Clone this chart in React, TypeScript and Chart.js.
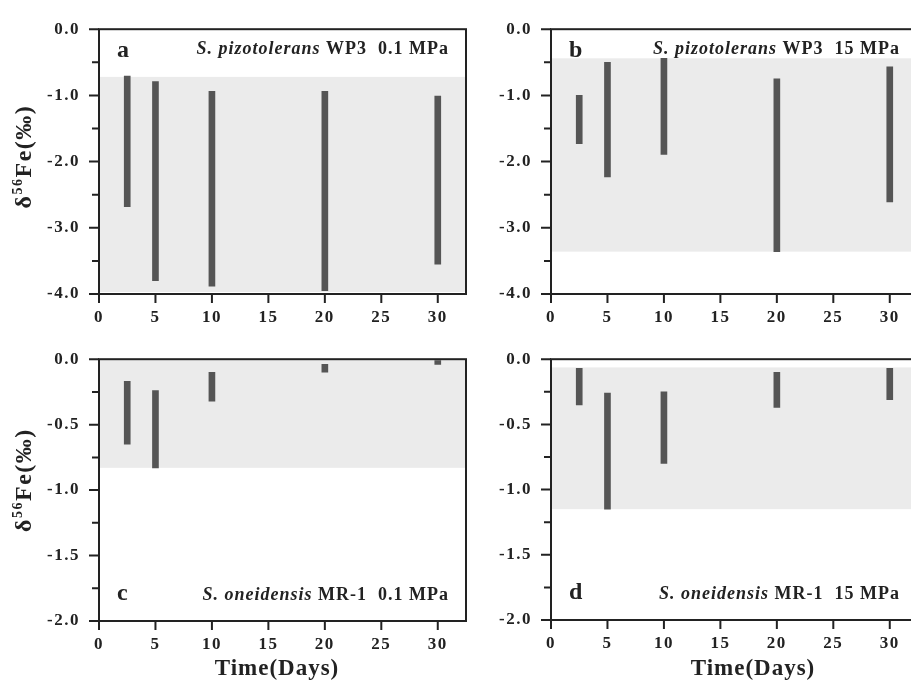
import React, { useEffect, useRef } from 'react';
import { Chart, registerables } from 'chart.js';

Chart.register(...registerables);

// ---------- data ----------
const days = [2.5, 5, 10, 20, 30];
const xTickLabels = [0, 5, 10, 15, 20, 25, 30];

const aLow = [-2.68, -3.8, -3.88, -3.95, -3.55];
const aHigh = [-0.71, -0.79, -0.94, -0.94, -1.01];
const aBand = [-3.97, -0.72];

const bLow = [-1.73, -2.23, -1.89, -3.36, -2.61];
const bHigh = [-1.0, -0.5, -0.44, -0.75, -0.57];
const bBand = [-3.36, -0.44];

const cLow = [-0.65, -0.83, -0.32, -0.1, -0.04];
const cHigh = [-0.17, -0.24, -0.1, -0.04, -0.01];
const cBand = [-0.83, 0];

const dLow = [-0.35, -1.15, -0.8, -0.37, -0.31];
const dHigh = [-0.07, -0.26, -0.25, -0.1, -0.07];
const dBand = [-1.15, -0.063];

const topYRange = [-4, 0];
const bottomYRange = [-2, 0];

const yTitle = ['δ', '56', 'Fe(‰)'];
const xTitle = 'Time(Days)';

// ---------- styles ----------
const SERIF = "'Liberation Serif', 'Times New Roman', serif";
const INK = '#222222';
const BAR = '#555555';
const BAND = '#ebebeb';

type PanelDef = {
  left: number; top: number; w: number; h: number;
  padTop: number; xHeight: number;
  low: number[]; high: number[]; band: number[];
  yRange: number[]; yStep: number;
  letter: string; species: string; rest: string;
  labelAtBottom: boolean; showYTitle: boolean; showXTitle: boolean;
  xTitleOffset: number; yTitleShift: number;
};

const panels: PanelDef[] = [
  { left: 0, top: 0, w: 470, h: 330, padTop: 20, xHeight: 36, low: aLow, high: aHigh, band: aBand,
    yRange: topYRange, yStep: 1, letter: 'a', species: 'S. pizotolerans', rest: ' WP3  0.1 MPa',
    labelAtBottom: false, showYTitle: true, showXTitle: false, xTitleOffset: 178, yTitleShift: -5 },
  { left: 452, top: 0, w: 470, h: 330, padTop: 19, xHeight: 36, low: bLow, high: bHigh, band: bBand,
    yRange: topYRange, yStep: 1, letter: 'b', species: 'S. pizotolerans', rest: ' WP3  15 MPa',
    labelAtBottom: false, showYTitle: false, showXTitle: false, xTitleOffset: 202, yTitleShift: -5 },
  { left: 0, top: 330, w: 470, h: 354, padTop: 16, xHeight: 63, low: cLow, high: cHigh, band: cBand,
    yRange: bottomYRange, yStep: 0.5, letter: 'c', species: 'S. oneidensis', rest: ' MR-1  0.1 MPa',
    labelAtBottom: true, showYTitle: true, showXTitle: true, xTitleOffset: 178, yTitleShift: -10 },
  { left: 452, top: 330, w: 470, h: 354, padTop: 15, xHeight: 64, low: dLow, high: dHigh, band: dBand,
    yRange: bottomYRange, yStep: 0.5, letter: 'd', species: 'S. oneidensis', rest: ' MR-1  15 MPa',
    labelAtBottom: true, showYTitle: false, showXTitle: true, xTitleOffset: 202, yTitleShift: -10 },
];

function Panel({ p }: { p: PanelDef }) {
  const ref = useRef<HTMLCanvasElement | null>(null);

  useEffect(() => {
    if (!ref.current) return;

    const plugin = {
      id: 'panelDecor',
      beforeDraw(chart: any) {
        // slightly spaced glyphs for axis tick labels, as in the reference
        (chart.ctx as any).letterSpacing = '1.5px';
      },
      beforeDatasetsDraw(chart: any) {
        const { ctx, chartArea: ca, scales } = chart;
        const y = scales.y;
        const yTop = y.getPixelForValue(p.band[1]);
        const yBot = y.getPixelForValue(p.band[0]);
        ctx.save();
        ctx.fillStyle = BAND;
        ctx.fillRect(ca.left, yTop, ca.right - ca.left, yBot - yTop);
        ctx.restore();
      },
      afterDraw(chart: any) {
        const { ctx, chartArea: ca, scales } = chart;
        const x = scales.x;
        const y = scales.y;
        ctx.save();
        ctx.strokeStyle = INK;
        ctx.lineWidth = 2;
        ctx.strokeRect(ca.left, ca.top, ca.right - ca.left, ca.bottom - ca.top);

        // y ticks (major + minor) and x ticks
        const yVals: number[] = y.ticks.map((t: any) => t.value);
        ctx.beginPath();
        yVals.forEach((v) => {
          const py = y.getPixelForValue(v);
          ctx.moveTo(ca.left - 10, py);
          ctx.lineTo(ca.left, py);
        });
        for (let i = 0; i < yVals.length - 1; i++) {
          const py = y.getPixelForValue((yVals[i] + yVals[i + 1]) / 2);
          ctx.moveTo(ca.left - 7, py);
          ctx.lineTo(ca.left, py);
        }
        x.ticks.forEach((t: any) => {
          const px = x.getPixelForValue(t.value);
          ctx.moveTo(px, ca.bottom);
          ctx.lineTo(px, ca.bottom + 9);
        });
        ctx.stroke();

        // panel letter
        ctx.fillStyle = INK;
        ctx.textAlign = 'left';
        ctx.textBaseline = 'alphabetic';
        (ctx as any).letterSpacing = '0px';
        ctx.font = `bold 24px ${SERIF}`;
        const letterY = p.labelAtBottom ? ca.bottom - 21 : ca.top + 28;
        ctx.fillText(p.letter, ca.left + 18, letterY);

        // species label
        const labelY = p.labelAtBottom ? ca.bottom - 21 : ca.top + 25;
        (ctx as any).letterSpacing = '1px';
        ctx.font = `italic bold 18px ${SERIF}`;
        const w1 = ctx.measureText(p.species).width;
        ctx.font = `bold 18px ${SERIF}`;
        const w2 = ctx.measureText(p.rest).width;
        const startX = (p.left === 0 ? ca.right - 17 : ca.right - 18) - w1 - w2;
        ctx.font = `italic bold 18px ${SERIF}`;
        ctx.fillText(p.species, startX, labelY);
        ctx.font = `bold 18px ${SERIF}`;
        ctx.fillText(p.rest, startX + w1, labelY);

        // y title
        if (p.showYTitle) {
          const cy = (ca.top + ca.bottom) / 2 + p.yTitleShift;
          ctx.save();
          ctx.translate(31, cy);
          ctx.rotate(-Math.PI / 2);
          (ctx as any).letterSpacing = '1.5px';
          ctx.font = `bold 24px ${SERIF}`;
          const wd = ctx.measureText(yTitle[0]).width;
          const wf = ctx.measureText(yTitle[2]).width;
          ctx.font = `bold 14px ${SERIF}`;
          const ws = ctx.measureText(yTitle[1]).width;
          const total = wd + ws + wf;
          let cx = -total / 2;
          ctx.font = `bold 24px ${SERIF}`;
          ctx.fillText(yTitle[0], cx, 0);
          cx += wd;
          ctx.font = `bold 14px ${SERIF}`;
          ctx.fillText(yTitle[1], cx, -9);
          cx += ws;
          ctx.font = `bold 24px ${SERIF}`;
          ctx.fillText(yTitle[2], cx, 0);
          ctx.restore();
        }

        // x title
        if (p.showXTitle) {
          (ctx as any).letterSpacing = '1px';
          ctx.font = `bold 23px ${SERIF}`;
          ctx.textAlign = 'center';
          ctx.fillText(xTitle, ca.left + p.xTitleOffset, chart.height - 9);
        }
        ctx.restore();
        (ctx as any).letterSpacing = '0px';
      },
    };

    const chart = new Chart(ref.current, {
      type: 'bar',
      data: {
        datasets: [
          {
            data: days.map((d, i) => ({ x: d, y: [p.low[i], p.high[i]] })) as any,
            backgroundColor: BAR,
            borderWidth: 0,
            barThickness: 6,
          },
        ],
      },
      options: {
        responsive: false,
        animation: false,
        devicePixelRatio: 1,
        layout: { padding: { top: p.padTop, right: 4, left: 0, bottom: 0 } },
        plugins: { legend: { display: false }, tooltip: { enabled: false } },
        scales: {
          x: {
            type: 'linear',
            min: 0,
            max: 32.5,
            offset: false,
            grid: { display: false, drawTicks: false },
            border: { display: false },
            afterBuildTicks: (s: any) => {
              s.ticks = xTickLabels.map((v) => ({ value: v }));
            },
            afterFit: (s: any) => {
              s.height = p.xHeight;
            },
            ticks: {
              padding: 13,
              color: INK,
              maxRotation: 0,
              font: { family: SERIF, size: 17, weight: 'bold' },
              callback: (v: any) => String(v),
            },
          },
          y: {
            type: 'linear',
            min: p.yRange[0],
            max: p.yRange[1],
            grid: { display: false, drawTicks: false },
            border: { display: false },
            afterFit: (s: any) => {
              s.width = 99;
            },
            ticks: {
              stepSize: p.yStep,
              padding: 19,
              color: INK,
              font: { family: SERIF, size: 17, weight: 'bold' },
              callback: (v: any) => Number(v).toFixed(1),
            },
          },
        },
      },
      plugins: [plugin],
    });
    return () => chart.destroy();
  }, [p]);

  return (
    <canvas
      ref={ref}
      width={p.w}
      height={p.h}
      style={{ position: 'absolute', left: p.left, top: p.top, width: p.w, height: p.h }}
    />
  );
}

export default function App() {
  return (
    <div
      style={{
        position: 'fixed',
        left: 0,
        top: 0,
        width: 911,
        height: 684,
        overflow: 'hidden',
        background: '#ffffff',
      }}
    >
      {panels.map((p) => (
        <Panel key={p.letter} p={p} />
      ))}
    </div>
  );
}
